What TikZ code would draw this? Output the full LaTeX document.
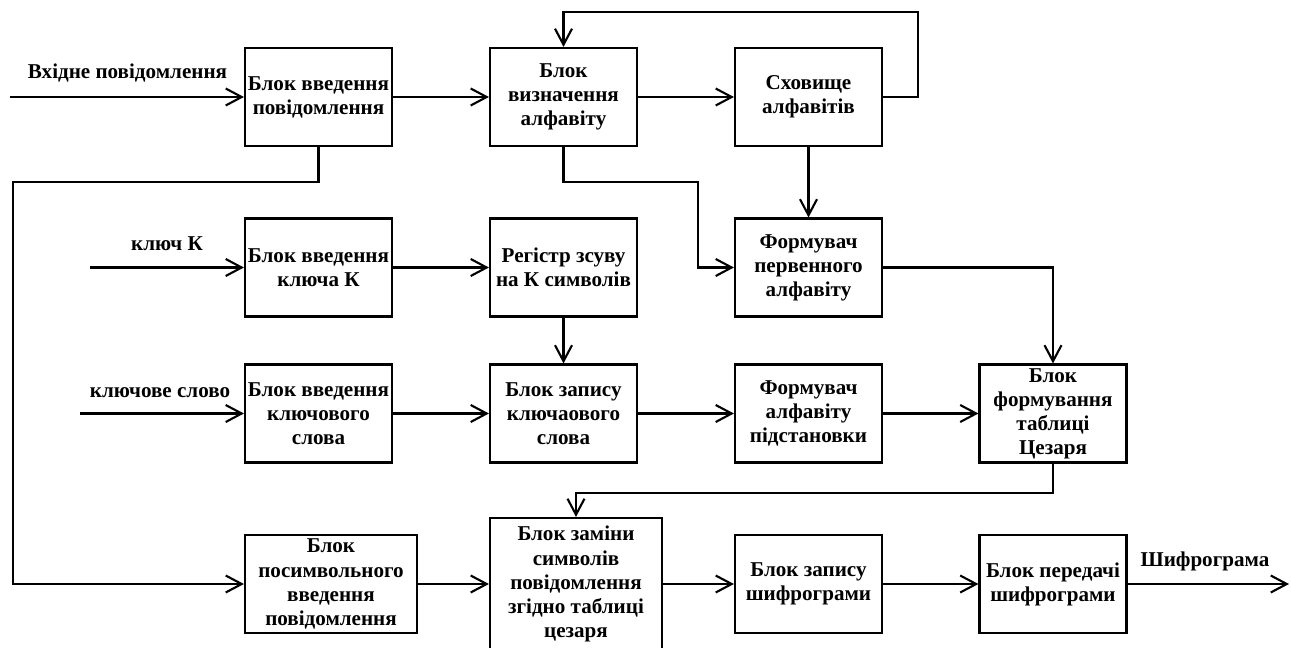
\documentclass[tikz,border=0pt]{standalone}
\usepackage{fontspec}
\setmainfont{Liberation Serif}
\usepackage{tikz}
\usetikzlibrary{arrows.meta}

\begin{document}
\begin{tikzpicture}
[
	blk/.style={draw,line width=1.2pt,align=center,minimum width=2.94cm,minimum height=1.96cm,inner sep=0pt,font=\fontsize{12}{13.7}\selectfont\bfseries},
	wide/.style={blk,minimum width=3.44cm},
	lbl/.style={font=\fontsize{12}{13.7}\selectfont\bfseries,inner sep=0pt},
	arr/.style={line width=1.2pt,-{Straight Barb[length=0.32cm,width=0.34cm,line width=1.2pt]}},
]
\useasboundingbox (0,0) rectangle (25.82,-12.96);

% first row
\node[blk] (vvod) at (6.37,-1.94) {Блок введення\\повідомлення};
\node[blk] (vyzn) at (11.27,-1.94) {Блок\\визначення\\алфавіту};
\node[blk] (skhov) at (16.17,-1.94) {Сховище\\алфавітів};

% second row
\node[blk] (vkl) at (6.37,-5.35) {Блок введення\\ключа К};
\node[blk] (reg) at (11.27,-5.35) {Регістр зсуву\\на К символів};
\node[blk] (form1) at (16.17,-5.35) {Формувач\\первенного\\алфавіту};

% third row
\node[blk] (vslovo) at (6.37,-8.27) {Блок введення\\ключового\\слова};
\node[blk] (zapys) at (11.27,-8.27) {Блок запису\\ключаового\\слова};
\node[blk] (form2) at (16.17,-8.27) {Формувач\\алфавіту\\підстановки};
\node[blk] (tabl) at (21.06,-8.27) {Блок\\формування\\таблиці\\Цезаря};

% fourth row
\node[wide] (posym) at (6.62,-11.68) {Блок\\посимвольного\\введення\\повідомлення};
\node[wide,minimum height=2.64cm] (zamina) at (11.52,-11.68) {Блок заміни\\символів\\повідомлення\\згідно таблиці\\цезаря};
\node[blk] (zapshyf) at (16.17,-11.68) {Блок запису\\шифрограми};
\node[blk] (pered) at (21.06,-11.68) {Блок передачі\\шифрограми};

% inputs and output
\coordinate (inmsg) at (0.2,-1.94);
\coordinate (inkey) at (1.8,-5.35);
\coordinate (inword) at (1.6,-8.27);
\coordinate (out) at (25.78,-11.68);
\node[lbl] (tmsg) at (2.55,-1.46) {Вхідне повідомлення};
\node[lbl] (tkey) at (3.34,-4.88) {ключ К};
\node[lbl] (tword) at (3.2,-7.86) {ключове слово};
\node[lbl] (tout) at (24.1,-11.22) {Шифрограма};

\draw[arr] (inmsg) -- (vvod.west);
\draw[arr] (inkey) -- (vkl.west);
\draw[arr] (inword) -- (vslovo.west);
\draw[arr] (pered.east) -- (out);

% straight links
\draw[arr] (vvod.east) -- (vyzn.west);
\draw[arr] (vyzn.east) -- (skhov.west);
\draw[arr] (skhov.south) -- (form1.north);
\draw[arr] (vkl.east) -- (reg.west);
\draw[arr] (reg.south) -- (zapys.north);
\draw[arr] (vslovo.east) -- (zapys.west);
\draw[arr] (zapys.east) -- (form2.west);
\draw[arr] (form2.east) -- (tabl.west);
\draw[arr] (posym.east) -- (zamina.west);
\draw[arr] (zamina.east) -- (zapshyf.west);
\draw[arr] (zapshyf.east) -- (pered.west);

% bent links
\coordinate (b1) at (0.26,-3.64);
\coordinate (b2) at (13.96,-3.64);
\coordinate (b3) at (18.36,-0.24);
\coordinate (b4) at (11.52,-9.86);
\draw[arr] (vvod.south) |- (b1) |- (posym.west);
\draw[arr] (vyzn.south) |- (b2) |- (form1.west);
\draw[arr] (skhov.east) -| (b3) -| (vyzn.north);
\draw[arr] (form1.east) -| (tabl.north);
\draw[arr] (tabl.south) |- (b4) -- (zamina.north);

\end{tikzpicture}
\end{document}
